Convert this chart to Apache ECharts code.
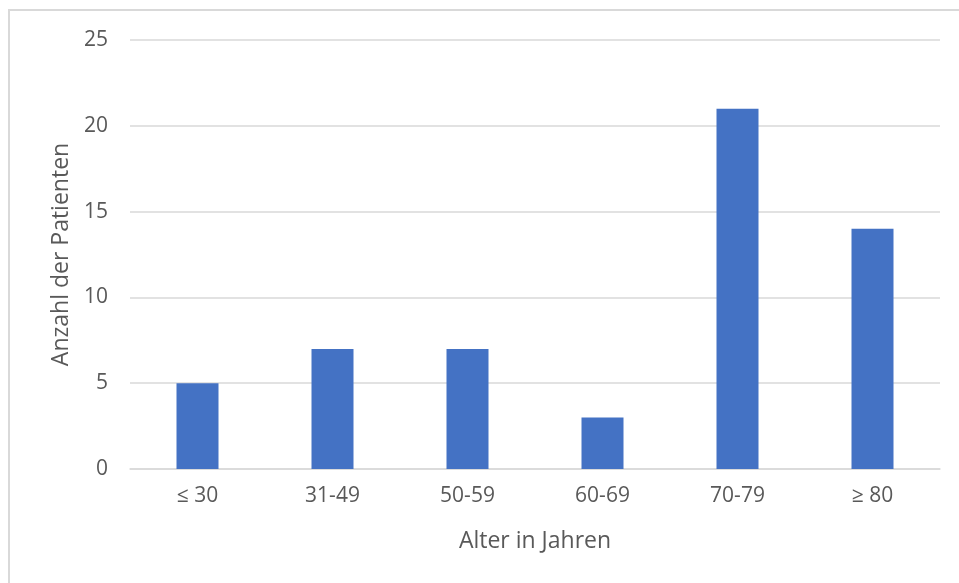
<!DOCTYPE html>
<html>
<head>
<meta charset="utf-8">
<script src="https://cdn.jsdelivr.net/npm/echarts@6/dist/echarts.min.js"></script>
<style>
html, body { margin: 0; padding: 0; background: #fff; }
#chart { width: 959px; height: 583px; }
</style>
</head>
<body>
<div id="chart"></div>
<script>
// Age groups and number of patients per group
const ageGroups = ['≤ 30', '31-49', '50-59', '60-69', '70-79', '≥ 80'];
const patientCounts = [5, 7, 7, 3, 21, 14];
const yTicks = { min: 0, max: 25, interval: 5 };

const textColor = '#595959';
const fontFamily = '"Open Sans", "Liberation Sans", sans-serif';

const chart = echarts.init(document.getElementById('chart'));
chart.setOption({
  animation: false,
  graphic: [{
    type: 'rect',
    shape: { x: 9, y: 10, width: 970, height: 600 },
    style: { fill: 'none', stroke: '#d9d9d9', lineWidth: 2 }
  }],
  grid: { left: 130, right: 19, top: 40, bottom: 114 },
  xAxis: {
    type: 'category',
    data: ageGroups,
    name: 'Alter in Jahren',
    nameLocation: 'middle',
    nameGap: 61,
    nameTextStyle: { color: textColor, fontSize: 23, fontFamily },
    axisLine: { lineStyle: { color: '#d9d9d9', width: 1.5 } },
    axisTick: { show: false },
    axisLabel: { color: textColor, fontSize: 21, fontFamily, margin: 17 }
  },
  yAxis: {
    type: 'value',
    min: yTicks.min,
    max: yTicks.max,
    interval: yTicks.interval,
    name: 'Anzahl der Patienten',
    nameLocation: 'middle',
    nameGap: 56,
    nameTextStyle: { color: textColor, fontSize: 23, fontFamily },
    axisLine: { show: false },
    axisTick: { show: false },
    axisLabel: { color: textColor, fontSize: 21, fontFamily, margin: 22 },
    splitLine: { lineStyle: { color: '#d9d9d9', width: 1.5 } }
  },
  series: [{
    type: 'bar',
    data: patientCounts,
    barWidth: 42,
    itemStyle: { color: '#4472C4' }
  }]
});
</script>
</body>
</html>
